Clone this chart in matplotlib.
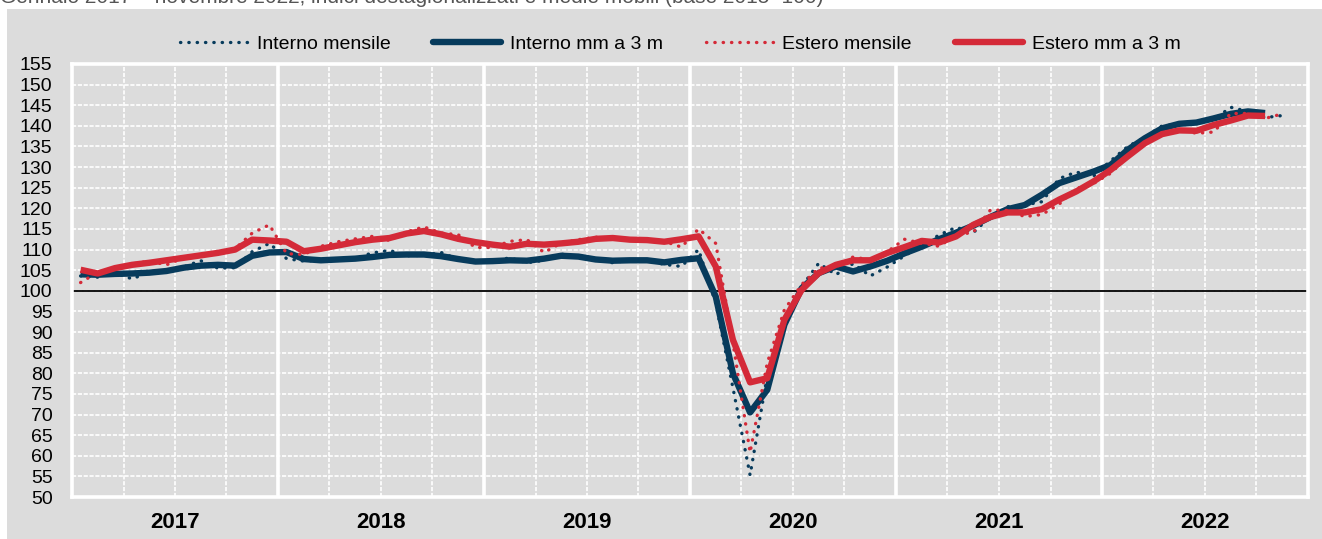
import matplotlib
matplotlib.use('Agg')
import matplotlib.pyplot as plt
from matplotlib import font_manager as fm
from matplotlib.patches import Rectangle
from matplotlib.lines import Line2D
import numpy as np
import pandas as pd

# ---------------- data ----------------
months = pd.period_range('2017-01', '2022-11', freq='M').strftime('%Y-%m').tolist()
years = ['2017', '2018', '2019', '2020', '2021', '2022']

interno_mensile = [
    103.6, 103.3, 104.3, 102.9, 104.5, 104.8, 105.8, 107.3, 105.5, 105.6, 109.5, 111.5,
    107.8, 107.2, 107.4, 107.5, 107.9, 109.2, 109.8, 108.5, 108.6, 109.3, 107.6, 106.8,
    107.2, 108.0, 106.8, 107.4, 108.9, 108.3, 107.7, 106.8, 107.5, 107.3, 106.4, 105.9,
    110.0, 97.0, 76.5, 55.3, 79.5, 93.5, 101.0, 106.7, 103.9, 106.6, 103.6, 105.8,
    108.5, 111.0, 113.5, 115.4, 114.1, 118.0, 120.4, 120.8, 121.6, 127.2, 128.8, 127.8,
    131.5, 135.0, 137.2, 140.0, 140.4, 140.9, 141.5, 144.5, 143.5, 142.0, 142.5,
]
interno_mm3 = [
    104.0, 103.9, 104.1, 104.2, 104.4, 104.8, 105.6, 106.1, 106.3, 106.1, 108.5, 109.3,
    109.4, 107.7, 107.4, 107.6, 107.8, 108.2, 108.7, 108.8, 108.8, 108.4, 107.7, 107.1,
    107.2, 107.4, 107.3, 107.8, 108.5, 108.3, 107.6, 107.3, 107.4, 107.4, 106.9, 107.5,
    107.9, 98.6, 80.0, 70.5, 76.0, 91.8, 100.6, 104.3, 105.9, 104.7, 105.9, 107.3,
    109.1, 110.7, 112.5, 114.1, 115.8, 117.9, 119.8, 120.8, 123.3, 126.1, 127.5, 128.9,
    130.5, 134.2, 137.0, 139.4, 140.5, 140.8, 141.8, 142.9, 143.5, 143.1,
]
estero_mensile = [
    102.0, 104.5, 105.3, 106.5, 107.2, 106.3, 108.0, 108.6, 109.4, 110.2, 114.0, 116.0,
    109.0, 108.8, 110.8, 111.9, 112.6, 113.2, 112.2, 114.3, 115.5, 114.0, 113.6, 110.5,
    110.5, 112.0, 112.4, 109.3, 111.6, 112.4, 113.0, 112.8, 112.3, 112.6, 112.0, 110.6,
    115.0, 111.5, 87.5, 60.8, 82.5, 95.4, 101.5, 105.5, 105.8, 108.2, 107.5, 109.5,
    112.5, 111.5, 110.8, 113.5, 114.2, 119.6, 119.5, 118.0, 118.5, 121.0, 124.8, 126.0,
    128.5, 132.5, 136.0, 138.3, 139.0, 138.2, 138.5, 143.0, 143.0, 141.8, 142.9,
]
estero_mm3 = [
    105.1, 104.2, 105.5, 106.3, 106.8, 107.4, 108.0, 108.6, 109.2, 110.0, 112.4, 112.2,
    111.9, 109.6, 110.2, 111.0, 111.8, 112.4, 112.8, 113.9, 114.5, 113.7, 112.6, 111.8,
    111.2, 110.7, 111.4, 111.2, 111.5, 111.9, 112.6, 112.8, 112.4, 112.3, 111.9, 112.5,
    113.2, 105.9, 88.1, 77.8, 78.8, 93.0, 100.2, 104.3, 106.3, 107.4, 107.4, 109.2,
    110.6, 112.1, 111.7, 113.2, 116.0, 117.9, 119.0, 119.0, 119.8, 122.1, 124.1, 126.5,
    129.3, 132.6, 135.8, 138.0, 138.9, 138.8, 140.2, 141.3, 142.5, 142.4,
]

legend_labels = ['Interno mensile', 'Interno mm a 3 m', 'Estero mensile', 'Estero mm a 3 m']
title_text = 'Gennaio 2017 – novembre 2022; indici destagionalizzati e medie mobili (base 2015=100)'

# ---------------- style ----------------
names = {f.name for f in fm.fontManager.ttflist}
NARROW = 'Liberation Sans Narrow' if 'Liberation Sans Narrow' in names else 'Liberation Sans'
REG = 'Liberation Sans'
plt.rcParams['font.family'] = [NARROW, 'DejaVu Sans']

NAVY = '#073b5c'
RED = '#d42a38'
GREY = '#dcdcdc'

W, H = 1322, 539
fig = plt.figure(figsize=(W / 100, H / 100), dpi=100)
fig.patch.set_facecolor('white')
# grey panel (behind everything)
fig.patches.append(Rectangle((7 / W, 0), 1 - 7 / W, 1 - 9 / H, transform=fig.transFigure,
                             facecolor=GREY, edgecolor='none', zorder=-10))
# cut-off title
fig.text(0.0, 1 - 3 / H, title_text, ha='left', va='baseline', fontsize=15,
         color='#555555', family=[REG, 'DejaVu Sans'])

ax = fig.add_axes([72 / W, 1 - 497 / H, (1308 - 72) / W, (497 - 64) / H])
ax.set_zorder(2)
ax.set_facecolor(GREY)

n_years = len(years)
ax.set_xlim(0, 12 * n_years)
ax.set_ylim(50, 155)

# grid
for v in np.arange(55, 155, 5):
    ax.axhline(v, color='white', lw=1.2, ls=(0, (2.5, 1)), zorder=1)
for k in range(n_years):
    for q in (3, 6, 9):
        ax.axvline(12 * k + q, color='white', lw=1.2, ls=(0, (2.5, 1)), zorder=1)
    if k > 0:
        ax.axvline(12 * k, color='white', lw=2.6, zorder=1.5)
for s in ax.spines.values():
    s.set_color('white')
    s.set_linewidth(2.6)

ax.axhline(100, color='black', lw=1.3, zorder=2)

x_m = np.arange(len(months)) + 0.5
x_ma = np.arange(len(interno_mm3)) + 0.5

dot = (0, (0.1, 2.4))
ax.plot(x_m, interno_mensile, color=NAVY, lw=2.4, ls=dot, dash_capstyle='round', zorder=3)
ax.plot(x_ma, interno_mm3, color=NAVY, lw=4.6, solid_capstyle='butt', solid_joinstyle='round', zorder=4)
ax.plot(x_m, estero_mensile, color=RED, lw=2.4, ls=dot, dash_capstyle='round', zorder=5)
ax.plot(x_ma, estero_mm3, color=RED, lw=4.6, solid_capstyle='butt', solid_joinstyle='round', zorder=6)

# ticks
ax.set_yticks(np.arange(50, 156, 5))
ax.tick_params(axis='y', length=0, pad=14, labelsize=14)
ax.set_xticks([])
ax.set_xticks([12 * k + 6 for k in range(n_years)], minor=True)
ax.set_xticklabels(years, minor=True, fontsize=16, fontweight='bold')
ax.tick_params(axis='x', which='minor', length=0, pad=11)

handles = [
    Line2D([], [], color=NAVY, lw=2.4, ls=dot, dash_capstyle='round'),
    Line2D([], [], color=NAVY, lw=4.6, solid_capstyle='round'),
    Line2D([], [], color=RED, lw=2.4, ls=dot, dash_capstyle='round'),
    Line2D([], [], color=RED, lw=4.6, solid_capstyle='round'),
]
fig.legend(handles, legend_labels, ncol=4, loc='center', bbox_to_anchor=(680 / W, 1 - 44 / H),
           frameon=False, fontsize=14, handlelength=3.5, handletextpad=0.45,
           columnspacing=2.2, borderpad=0)

fig.savefig('out.png', dpi=100, facecolor=fig.get_facecolor())
